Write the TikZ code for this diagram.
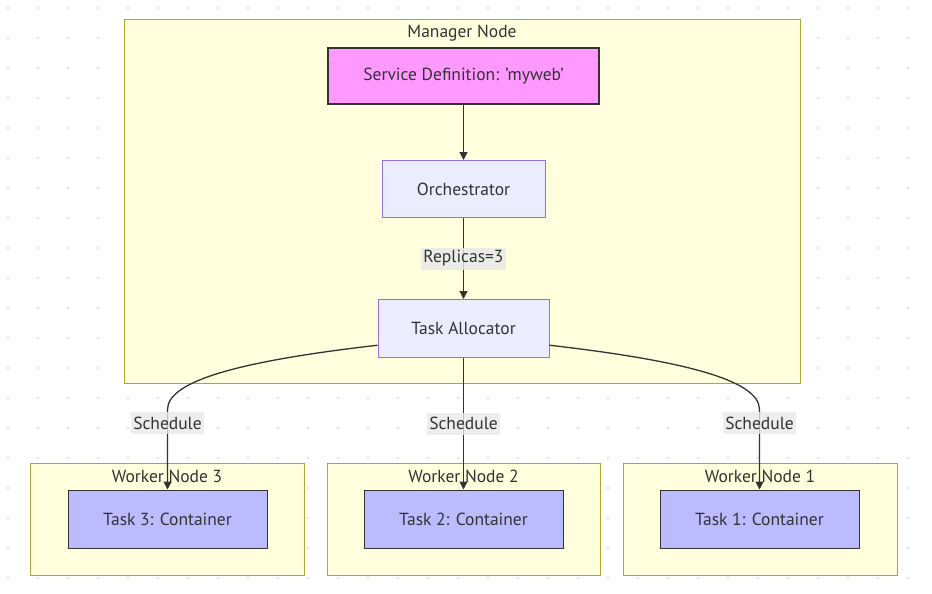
\documentclass[tikz,border=0pt]{standalone}
\usepackage{fontspec}
\setmainfont{PT Sans}
\usepackage{tikz}
\usetikzlibrary{arrows.meta,positioning}
\definecolor{clusterfill}{HTML}{FFFFDE}
\definecolor{clusterdraw}{HTML}{AAAA33}
\definecolor{procfill}{HTML}{ECECFF}
\definecolor{procdraw}{HTML}{9370DB}
\definecolor{svcfill}{HTML}{FF99FF}
\definecolor{taskfill}{HTML}{BBBBFF}
\definecolor{inkcolor}{HTML}{333333}
\definecolor{labelfill}{HTML}{E8E8E8}
\definecolor{dotcolor}{HTML}{E6E6E6}

\begin{document}
\begin{tikzpicture}[
    x=1pt, y=1pt,
    font=\fontsize{17.5}{21}\selectfont, text=inkcolor,
    cluster/.style={draw=clusterdraw, fill=clusterfill, line width=1pt, inner sep=0pt},
    title/.style={inner sep=0pt},
    proc/.style={draw=procdraw, fill=procfill, line width=1pt, minimum height=57pt},
    svc/.style={draw=inkcolor, fill=svcfill, line width=2pt, minimum width=271pt, minimum height=56pt},
    taskbox/.style={draw=inkcolor, fill=taskfill, line width=1pt, minimum width=199pt, minimum height=58pt},
    lbl/.style={fill=labelfill, fill opacity=0.8, text opacity=1, inner sep=2.5pt, minimum height=22pt},
    arr/.style={draw=inkcolor, line width=1.3pt, -{Triangle[length=8pt,width=8pt]}},
    node distance=55pt
]
    \useasboundingbox (0,0) rectangle (932,-594);

    % Dotted background
    \foreach \x in {8,38,...,932}
        \foreach \y in {8,38,...,594}
            \fill[dotcolor] (\x,-\y) circle (1.6pt);

    % Clusters
    \node[cluster, minimum width=676pt, minimum height=363pt] (manager) at (462,-201.5) {};
    \node[title] (managertitle) at ([yshift=-13.5pt]manager.north) {Manager Node};
    \node[cluster, minimum width=274pt, minimum height=112pt] (worker3) at (167,-519) {};
    \node[title] (worker3title) at ([yshift=-13.5pt]worker3.north) {Worker Node 3};
    \node[cluster, minimum width=273pt, minimum height=112pt] (worker2) at (463.5,-519) {};
    \node[title] (worker2title) at ([yshift=-13.5pt]worker2.north) {Worker Node 2};
    \node[cluster, minimum width=274pt, minimum height=112pt] (worker1) at (760,-519) {};
    \node[title] (worker1title) at ([yshift=-13.5pt]worker1.north) {Worker Node 1};

    % Manager nodes
    \node[svc] (service) at (463.5,-76) {Service Definition: 'myweb'};
    \node[proc, minimum width=163pt, below=of service] (orchestrator) {Orchestrator};
    \node[proc, minimum width=171pt, minimum height=58pt, below=81pt of orchestrator] (allocator) {Task Allocator};

    % Tasks
    \node[taskbox] (task3) at (167.5,-519) {Task 3: Container};
    \node[taskbox] (task2) at (463.5,-519) {Task 2: Container};
    \node[taskbox] (task1) at (759.5,-519) {Task 1: Container};

    % Edges
    \draw[arr] (service) -- (orchestrator);
    \draw[arr] (orchestrator) -- node[lbl] {Replicas=3} (allocator);
    \draw[arr] (allocator.191) .. controls +(-130,-15) and +(0,30) .. ([yshift=80pt]task3.north)
        -- node[lbl, pos=0.17] {Schedule} (task3.north);
    \draw[arr] (allocator) -- node[lbl] {Schedule} (task2);
    \draw[arr] (allocator.-11) .. controls +(130,-15) and +(0,30) .. ([yshift=80pt]task1.north)
        -- node[lbl, pos=0.17] {Schedule} (task1.north);
\end{tikzpicture}
\end{document}
